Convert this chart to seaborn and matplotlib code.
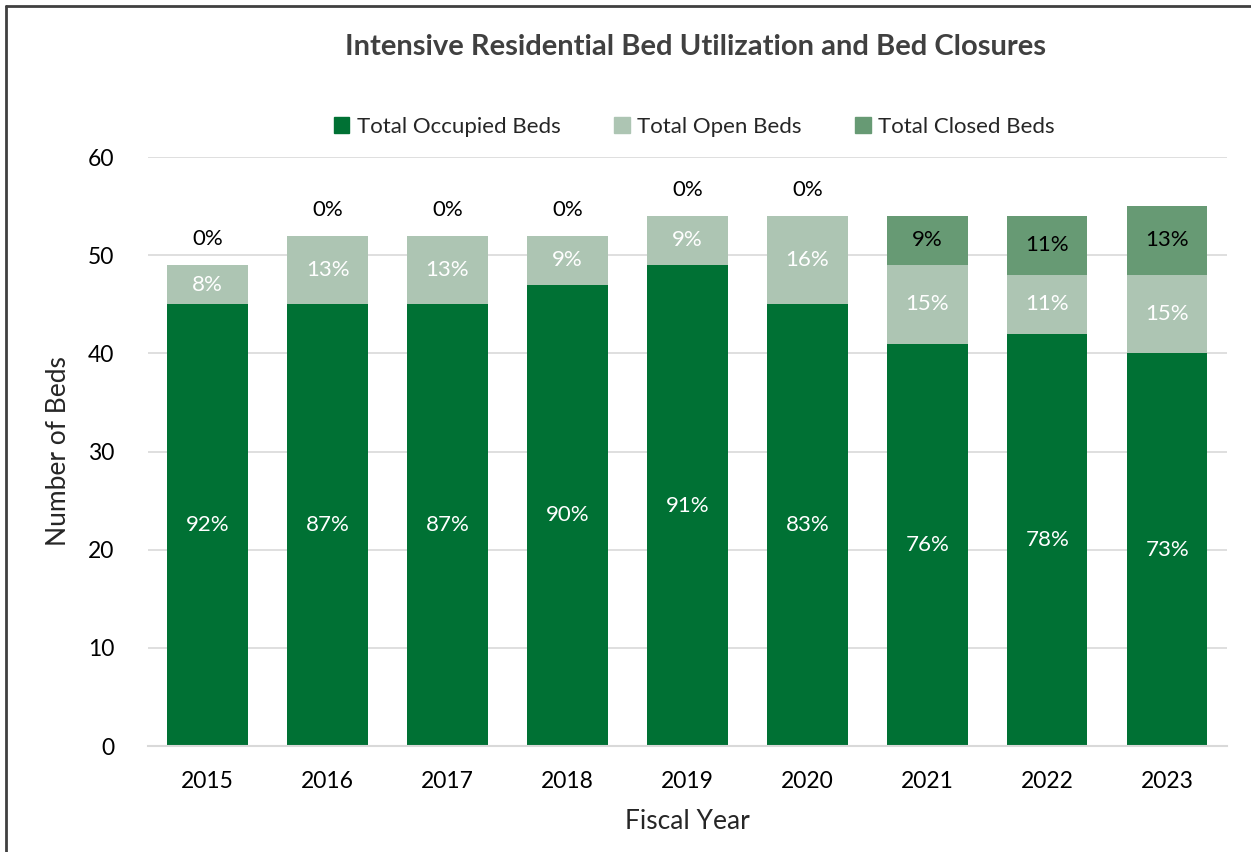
import matplotlib
matplotlib.use("Agg")
import matplotlib.pyplot as plt
import seaborn as sns
import pandas as pd
import numpy as np
from matplotlib.lines import Line2D
from matplotlib.patches import Patch

years = ["2015", "2016", "2017", "2018", "2019", "2020", "2021", "2022", "2023"]
occupied = [45, 45, 45, 47, 49, 45, 41, 42, 40]
open_beds = [4, 7, 7, 5, 5, 9, 8, 6, 8]
closed = [0, 0, 0, 0, 0, 0, 5, 6, 7]
occ_pct = ["92%", "87%", "87%", "90%", "91%", "83%", "76%", "78%", "73%"]
open_pct = ["8%", "13%", "13%", "9%", "9%", "16%", "15%", "11%", "15%"]
closed_pct = ["0%", "0%", "0%", "0%", "0%", "0%", "9%", "11%", "13%"]

C_OCC = "#007134"
C_OPEN = "#ADC5B3"
C_CLOSED = "#679A74"

sns.set_theme(style="white")
plt.rcParams["font.family"] = ["Lato", "DejaVu Sans"]

df = pd.DataFrame({"year": years, "occ": occupied, "open": open_beds, "closed": closed})
df["occ_open"] = df["occ"] + df["open"]
df["total"] = df["occ_open"] + df["closed"]

fig = plt.figure(figsize=(12.51, 8.52), dpi=100)
ax = fig.add_axes([0.118, 0.1244, 0.863, 0.6913])

w = 0.67
for col, c in [("total", C_CLOSED), ("occ_open", C_OPEN), ("occ", C_OCC)]:
    sns.barplot(data=df, x="year", y=col, color=c, width=w, ax=ax, saturation=1,
                linewidth=0, edgecolor="none", zorder=2)

ax.set_ylim(0, 60)
ax.set_xlim(-0.5, len(years) - 0.5)
ax.set_yticks(range(0, 61, 10))
ax.yaxis.grid(True, color="#D9D9D9", linewidth=1.2, zorder=0)
ax.set_axisbelow(True)
for s in ["top", "right", "left"]:
    ax.spines[s].set_visible(False)
ax.spines["bottom"].set_color("#D9D9D9")
ax.spines["bottom"].set_linewidth(1.5)

ax.tick_params(axis="x", which="major", length=0, labelsize=16.5, pad=18, colors="black")
ax.set_xticks(np.arange(-0.5, len(years), 1.0), minor=True)
ax.tick_params(axis="x", which="minor", length=8, width=1.5, color="#D9D9D9")
ax.tick_params(axis="y", length=0, labelsize=16.5, pad=24, colors="black")

ax.set_xlabel("Fiscal Year", fontsize=19, labelpad=12)
ax.set_ylabel("Number of Beds", fontsize=19, labelpad=12)

fs = 16
for i in range(len(years)):
    o = occupied[i]; op = open_beds[i]; c = closed[i]
    ax.text(i, o / 2, occ_pct[i], ha="center", va="center", color="white", fontsize=fs)
    ax.text(i, o + op / 2, open_pct[i], ha="center", va="center", color="white", fontsize=fs)
    if c > 0:
        ax.text(i, o + op + c / 2, closed_pct[i], ha="center", va="center", color="black", fontsize=fs)
    else:
        ax.text(i, o + op + 2.6, closed_pct[i], ha="center", va="center", color="black", fontsize=fs)

handles = [Patch(color=C_OCC), Patch(color=C_OPEN), Patch(color=C_CLOSED)]
labels = ["Total Occupied Beds", "Total Open Beds", "Total Closed Beds"]
fig.legend(handles, labels, loc="center", bbox_to_anchor=(0.555, 0.851), ncol=3,
           frameon=False, fontsize=16, handlelength=0.7, handleheight=0.7,
           handletextpad=0.35, columnspacing=2.4)

fig.text(0.556, 0.945, "Intensive Residential Bed Utilization and Bed Closures",
         ha="center", va="center", fontsize=21, fontweight="bold", color="#404040")

fig.add_artist(Line2D([0.005, 0.005], [0, 0.993], transform=fig.transFigure, color="#404040", linewidth=2))
fig.add_artist(Line2D([0.005, 1.0], [0.993, 0.993], transform=fig.transFigure, color="#404040", linewidth=2))

fig.savefig("out.png", dpi=100)
